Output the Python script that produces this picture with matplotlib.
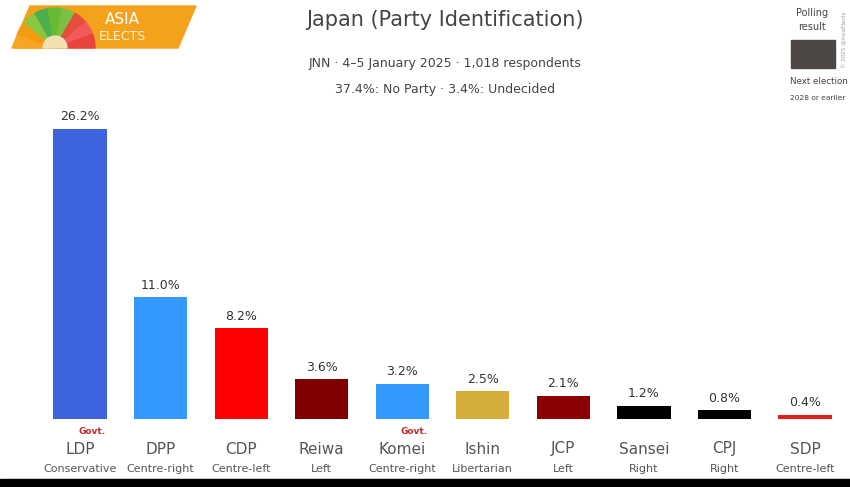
import matplotlib.pyplot as plt
from matplotlib.patches import Polygon, Wedge, Rectangle

plt.rcParams['font.family'] = ['DejaVu Sans']

parties = ['LDP', 'DPP', 'CDP', 'Reiwa', 'Komei', 'Ishin', 'JCP', 'Sansei', 'CPJ', 'SDP']
ideology = ['Conservative', 'Centre-right', 'Centre-left', 'Left', 'Centre-right',
            'Libertarian', 'Left', 'Right', 'Right', 'Centre-left']
values = [26.2, 11.0, 8.2, 3.6, 3.2, 2.5, 2.1, 1.2, 0.8, 0.4]
colors = ['#3d63dd', '#3399ff', '#ff0000', '#800000', '#3399ff',
          '#d4ae3c', '#8b0000', '#000000', '#000000', '#e0201b']
govt = ['LDP', 'Komei']

W, H = 850, 487
fig = plt.figure(figsize=(W / 100, H / 100), dpi=100)

# background / decoration layer in pixel coordinates
deco = fig.add_axes([0, 0, 1, 1])
deco.set_xlim(0, W)
deco.set_ylim(H, 0)
deco.axis('off')

# logo
deco.add_patch(Polygon([[12, 48], [30, 6], [196, 6], [178, 48]], closed=True,
                       color='#f4a21b', zorder=1))
fan_cols = ['#f6a623', '#f39c12', '#8cc63f', '#4caf50', '#66bb33', '#7bc043',
            '#e74c3c', '#f05a5a', '#e8433c']
n = len(fan_cols)
for i, c in enumerate(fan_cols):
    a1 = 180 - (i + 1) * 180 / n
    a2 = 180 - i * 180 / n
    deco.add_patch(Wedge((55, 48), 40, -a2, -a1, color=c, zorder=2))
deco.add_patch(Wedge((55, 48), 12, -180, 0, color='#f1e0b0', zorder=3))
deco.text(122, 19, 'ASIA', color='white', fontsize=11, ha='center', va='center', zorder=4)
deco.text(122, 36, 'ELECTS', color='#fff3d0', fontsize=9, ha='center', va='center', zorder=4)

# titles
deco.text(445, 20, 'Japan (Party Identification)', fontsize=15, color='#444444',
          ha='center', va='center')
deco.text(445, 63, 'JNN · 4–5 January 2025 · 1,018 respondents', fontsize=9,
          color='#444444', ha='center', va='center')
deco.text(445, 89, '37.4%: No Party · 3.4%: Undecided', fontsize=9,
          color='#444444', ha='center', va='center')

# legend
deco.text(812, 20, 'Polling\nresult', fontsize=7, color='#444444', ha='center',
          va='center', linespacing=1.4)
deco.add_patch(Rectangle((791, 40), 44, 28, color='#4d4846'))
deco.text(790, 81, 'Next election', fontsize=6.3, color='#444444', ha='left', va='center')
deco.text(790, 98, '2028 or earlier', fontsize=5.4, color='#444444', ha='left', va='center')
deco.text(845, 40, '© 2025 @AsiaElects', fontsize=4, color='#999999', rotation=90,
          ha='center', va='center')

# bottom band
deco.add_patch(Rectangle((0, 479), W, 8, color='black'))

# bars
ax = fig.add_axes([0, 0, 1, 1])
ax.patch.set_alpha(0)
spacing = 80.56
ppu = 11.07
base = 68
ax.set_xlim(-80 / spacing, (W - 80) / spacing)
ax.set_ylim(-base / ppu, (H - base) / ppu)
ax.axis('off')

x = range(len(parties))
ax.bar(x, values, width=0.66, color=colors)
for i, v in enumerate(values):
    ax.text(i, v + 0.5, f'{v:.1f}%', ha='center', va='bottom', fontsize=9, color='#333333')
    ax.text(i, -30 / ppu, parties[i], ha='center', va='center', fontsize=11, color='#555555')
    ax.text(i, -50 / ppu, ideology[i], ha='center', va='center', fontsize=8, color='#555555')
    if parties[i] in govt:
        ax.text(i + 0.15, -12 / ppu, 'Govt.', ha='center', va='center', fontsize=6.5,
                color='#c62828', fontweight='bold')

fig.savefig('out.png', dpi=100)
